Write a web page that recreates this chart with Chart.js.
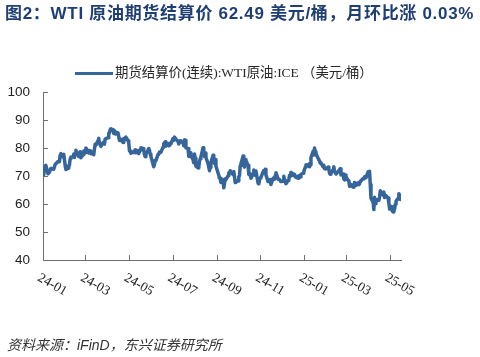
<!DOCTYPE html>
<html><head><meta charset="utf-8">
<script src="https://cdn.jsdelivr.net/npm/chart.js@4/dist/chart.umd.min.js"></script>
<style>
html,body{margin:0;padding:0;background:#fff;}
#wrap{position:relative;width:480px;height:357px;overflow:hidden;}
#c{position:absolute;left:0;top:0;}
#title{position:absolute;left:5px;top:4px;font:bold 17px "Liberation Sans","Noto Sans CJK SC",sans-serif;letter-spacing:0.7px;color:#1f3e72;line-height:20px;white-space:nowrap;}
#leg{position:absolute;left:75px;top:64px;height:18px;white-space:nowrap;}
#legline{position:absolute;left:0;top:7.5px;width:38px;height:3.5px;background:#35659a;}
#legtxt{position:absolute;left:40px;top:0;font:13.4px "Liberation Serif","Noto Sans CJK SC",serif;color:#262626;line-height:18px;}
#src{position:absolute;left:7px;top:336px;font:italic 14px "Liberation Sans","Noto Sans CJK SC",sans-serif;color:#333;line-height:18px;white-space:nowrap;}
</style></head>
<body><div id="wrap">
<canvas id="c" width="480" height="357"></canvas>
<div id="title">图2：WTI 原油期货结算价 62.49 美元/桶，月环比涨 0.03%</div>
<div id="leg"><div id="legline"></div><div id="legtxt">期货结算价(连续):WTI原油:ICE （美元/桶）</div></div>
<div id="src">资料来源：iFinD，东兴证券研究所</div>
</div>
<script>
const seriesName = '期货结算价(连续):WTI原油:ICE （美元/桶）';
const tickLabels = ['24-01','24-03','24-05','24-07','24-09','24-11','25-01','25-03','25-05'];
const tickDates = ['2024-01-01','2024-03-01','2024-05-01','2024-07-01','2024-09-01','2024-11-01','2025-01-01','2025-03-01','2025-05-01'];
const yTicks = [40,50,60,70,80,90,100];

const dates = [
'2024-01-02','2024-01-03','2024-01-05','2024-01-08','2024-01-10','2024-01-12','2024-01-16','2024-01-18','2024-01-22','2024-01-24','2024-01-25','2024-01-26','2024-01-29','2024-01-30','2024-01-31',
'2024-02-01','2024-02-02','2024-02-05','2024-02-06','2024-02-07','2024-02-08','2024-02-09','2024-02-12','2024-02-13','2024-02-14','2024-02-15','2024-02-16','2024-02-20','2024-02-21','2024-02-22','2024-02-23','2024-02-26','2024-02-27','2024-02-28','2024-02-29',
'2024-03-01','2024-03-04','2024-03-05','2024-03-06','2024-03-07','2024-03-08','2024-03-11','2024-03-12','2024-03-13','2024-03-14','2024-03-15','2024-03-18','2024-03-19','2024-03-20','2024-03-21','2024-03-22','2024-03-25','2024-03-26','2024-03-27','2024-03-28',
'2024-04-01','2024-04-02','2024-04-03','2024-04-04','2024-04-05','2024-04-08','2024-04-09','2024-04-10','2024-04-11','2024-04-12','2024-04-15','2024-04-16','2024-04-17','2024-04-18','2024-04-19','2024-04-22','2024-04-23','2024-04-24','2024-04-25','2024-04-26','2024-04-29','2024-04-30',
'2024-05-01','2024-05-02','2024-05-03','2024-05-06','2024-05-07','2024-05-08','2024-05-09','2024-05-10','2024-05-13','2024-05-14','2024-05-15','2024-05-16','2024-05-17','2024-05-20','2024-05-21','2024-05-22','2024-05-23','2024-05-24','2024-05-28','2024-05-29','2024-05-30','2024-05-31',
'2024-06-03','2024-06-04','2024-06-05','2024-06-06','2024-06-07','2024-06-10','2024-06-11','2024-06-12','2024-06-13','2024-06-14','2024-06-17','2024-06-18','2024-06-20','2024-06-21','2024-06-24','2024-06-25','2024-06-26','2024-06-27','2024-06-28',
'2024-07-01','2024-07-02','2024-07-03','2024-07-05','2024-07-08','2024-07-09','2024-07-10','2024-07-11','2024-07-12','2024-07-15','2024-07-16','2024-07-17','2024-07-18','2024-07-19','2024-07-22','2024-07-23','2024-07-24','2024-07-25','2024-07-26','2024-07-29','2024-07-30','2024-07-31',
'2024-08-01','2024-08-02','2024-08-05','2024-08-06','2024-08-07','2024-08-08','2024-08-09','2024-08-12','2024-08-13','2024-08-14','2024-08-15','2024-08-16','2024-08-19','2024-08-20','2024-08-21','2024-08-22','2024-08-23','2024-08-26','2024-08-27','2024-08-28','2024-08-29','2024-08-30',
'2024-09-03','2024-09-04','2024-09-05','2024-09-06','2024-09-09','2024-09-10','2024-09-11','2024-09-12','2024-09-13','2024-09-16','2024-09-17','2024-09-18','2024-09-19','2024-09-20','2024-09-23','2024-09-24','2024-09-25','2024-09-26','2024-09-27','2024-09-30',
'2024-10-01','2024-10-02','2024-10-03','2024-10-04','2024-10-07','2024-10-08','2024-10-09','2024-10-10','2024-10-11','2024-10-14','2024-10-15','2024-10-16','2024-10-17','2024-10-18','2024-10-21','2024-10-22','2024-10-23','2024-10-24','2024-10-25','2024-10-28','2024-10-29','2024-10-30','2024-10-31',
'2024-11-01','2024-11-04','2024-11-05','2024-11-06','2024-11-07','2024-11-08','2024-11-11','2024-11-12','2024-11-13','2024-11-14','2024-11-15','2024-11-18','2024-11-19','2024-11-20','2024-11-21','2024-11-22','2024-11-25','2024-11-26','2024-11-27','2024-11-29',
'2024-12-02','2024-12-03','2024-12-04','2024-12-05','2024-12-06','2024-12-09','2024-12-10','2024-12-11','2024-12-12','2024-12-13','2024-12-16','2024-12-17','2024-12-18','2024-12-19','2024-12-20','2024-12-23','2024-12-24','2024-12-26','2024-12-27','2024-12-30','2024-12-31',
'2025-01-02','2025-01-03','2025-01-06','2025-01-07','2025-01-08','2025-01-09','2025-01-10','2025-01-13','2025-01-14','2025-01-15','2025-01-16','2025-01-17','2025-01-21','2025-01-22','2025-01-23','2025-01-24','2025-01-27','2025-01-28','2025-01-29','2025-01-30','2025-01-31',
'2025-02-03','2025-02-04','2025-02-05','2025-02-06','2025-02-07','2025-02-10','2025-02-11','2025-02-12','2025-02-13','2025-02-14','2025-02-18','2025-02-19','2025-02-20','2025-02-21','2025-02-24','2025-02-25','2025-02-26','2025-02-27','2025-02-28',
'2025-03-03','2025-03-04','2025-03-05','2025-03-06','2025-03-07','2025-03-10','2025-03-11','2025-03-12','2025-03-13','2025-03-14','2025-03-17','2025-03-18','2025-03-19','2025-03-20','2025-03-21','2025-03-24','2025-03-25','2025-03-26','2025-03-27','2025-03-28','2025-03-31',
'2025-04-01','2025-04-02','2025-04-03','2025-04-04','2025-04-07','2025-04-08','2025-04-09','2025-04-10','2025-04-11','2025-04-14','2025-04-15','2025-04-16','2025-04-17','2025-04-21','2025-04-22','2025-04-23','2025-04-24','2025-04-25','2025-04-28','2025-04-29','2025-04-30',
'2025-05-01','2025-05-02','2025-05-05','2025-05-06','2025-05-07','2025-05-08','2025-05-09','2025-05-12','2025-05-13','2025-05-14','2025-05-15','2025-05-16'
];
const prices = [
70.4,72.7,73.8,70.8,71.4,72.7,72.4,74.1,75.2,75.1,77.4,78.0,76.8,77.8,75.9,
73.8,72.3,72.8,73.3,73.9,76.2,76.8,76.9,77.9,76.6,78.0,79.2,77.0,77.9,78.6,76.5,77.6,78.9,78.5,78.3,
80.0,78.7,78.2,79.1,78.9,78.0,77.9,77.6,79.7,81.3,81.0,82.7,83.5,81.7,81.1,80.6,81.9,81.6,81.4,83.2,
83.7,85.2,85.4,86.6,86.9,86.4,85.2,86.2,85.0,85.7,85.4,85.4,82.7,82.7,83.1,82.0,83.4,82.8,83.6,83.9,82.6,81.9,
79.0,78.9,78.1,78.5,78.4,79.0,79.3,78.3,79.1,78.0,78.6,79.2,80.1,79.8,79.3,77.6,76.9,77.7,79.8,79.2,77.9,77.0,
74.2,73.3,74.1,75.6,75.5,77.7,77.9,78.5,78.6,78.5,80.3,81.6,82.2,80.7,81.6,80.8,80.9,81.7,81.5,
83.4,82.8,83.9,83.2,82.3,81.4,82.1,82.6,82.2,81.9,80.8,82.9,82.8,80.1,79.8,77.0,77.6,78.3,77.2,75.8,74.7,77.9,
76.3,73.5,72.9,73.2,75.2,76.2,76.8,80.1,78.4,77.0,78.2,76.7,74.4,73.2,71.9,73.0,74.8,77.4,75.5,74.5,75.9,73.6,
70.3,69.2,69.2,67.7,68.7,65.8,67.3,69.0,68.7,70.1,71.2,70.9,71.9,71.9,70.4,71.6,69.7,67.7,68.2,68.2,
69.8,70.1,73.7,74.4,77.1,73.6,73.2,75.9,75.6,73.8,70.6,70.4,70.7,69.2,70.6,72.1,70.8,70.2,71.8,67.4,67.2,68.6,69.3,
69.5,71.5,72.0,71.7,72.4,70.4,68.0,68.1,68.4,68.7,67.0,69.2,69.4,68.9,70.1,71.2,68.9,68.8,68.7,68.0,
68.1,69.9,68.5,68.3,67.2,68.4,68.6,70.3,70.0,71.3,70.7,70.1,70.6,69.9,69.5,69.2,70.1,69.6,70.6,71.0,71.7,
73.1,74.0,73.6,74.3,73.3,73.9,76.6,78.8,77.5,80.0,78.7,77.9,75.8,75.4,74.6,74.7,73.2,73.8,72.6,72.7,72.5,
73.2,72.7,71.0,70.6,71.0,72.3,73.3,71.4,71.3,70.7,71.9,72.3,72.6,70.4,70.7,68.9,68.6,70.4,69.8,
68.4,68.3,66.3,66.4,67.0,66.0,66.3,67.7,66.6,67.2,67.6,66.9,67.2,68.1,68.3,69.1,69.0,69.7,69.9,69.4,71.5,
71.2,71.7,67.0,62.0,60.7,58.0,62.4,60.1,61.5,61.5,61.3,62.5,64.7,63.1,64.3,62.3,62.8,63.0,62.1,60.4,58.2,
59.2,58.3,57.1,59.1,58.1,59.9,61.0,62.0,63.7,63.2,61.6,62.49
];

const DAY = 86400000, BASE = Date.UTC(2024,0,1);
const dayIndex = s => { const [y,m,d] = s.split('-').map(Number); return (Date.UTC(y,m-1,d)-BASE)/DAY; };
const points = dates.map((s,i)=>({x: dayIndex(s), y: prices[i]}));
const tickDays = tickDates.map(dayIndex);
const lineColor = '#35659a';
const axisColor = '#6e6e6e';

const xLabelPlugin = {
  id: 'xlabels',
  afterDraw(chart){
    const sx = chart.scales.x, ctx = chart.ctx;
    ctx.save();
    ctx.font = '13.5px "Liberation Serif", serif';
    ctx.fillStyle = '#222';
    ctx.textAlign = 'left';
    ctx.textBaseline = 'top';
    tickDays.forEach((d,i)=>{
      const px = sx.getPixelForValue(d);
      ctx.save();
      ctx.translate(px - 1, chart.chartArea.bottom + 11);
      ctx.rotate(Math.PI/6);
      ctx.fillText(tickLabels[i], 0, 0);
      ctx.restore();
    });
    ctx.restore();
  }
};

new Chart(document.getElementById('c'), {
  type: 'line',
  data: { datasets: [{
    label: seriesName,
    data: points,
    borderColor: lineColor,
    backgroundColor: lineColor,
    borderWidth: 3.5,
    pointRadius: 0,
    tension: 0,
    borderJoinStyle: 'round',
    borderCapStyle: 'round'
  }]},
  options: {
    responsive: false,
    animation: false,
    events: [],
    layout: { padding: { left: 0, right: 79, top: 92, bottom: 0 } },
    plugins: { legend: { display: false }, tooltip: { enabled: false }, title: { display: false } },
    scales: {
      x: {
        type: 'linear',
        min: 0,
        max: dayIndex(dates[dates.length-1]),
        afterBuildTicks: s => { s.ticks = tickDays.map(v => ({ value: v })); },
        afterFit: s => { s.height = 97; },
        ticks: { display: false },
        grid: { drawOnChartArea: false, drawTicks: true, tickLength: -5, color: axisColor, lineWidth: 1 },
        border: { display: true, color: axisColor, width: 1 }
      },
      y: {
        min: 40, max: 100,
        afterBuildTicks: s => { s.ticks = yTicks.map(v => ({ value: v })); },
        afterFit: s => { s.width = 43; },
        ticks: { padding: 18, color: '#222', font: { family: '"Liberation Sans", Arial, sans-serif', size: 13.5 } },
        grid: { drawOnChartArea: false, drawTicks: true, tickLength: -5, color: axisColor, lineWidth: 1 },
        border: { display: true, color: axisColor, width: 1 }
      }
    }
  },
  plugins: [xLabelPlugin]
});
</script>
</body></html>
